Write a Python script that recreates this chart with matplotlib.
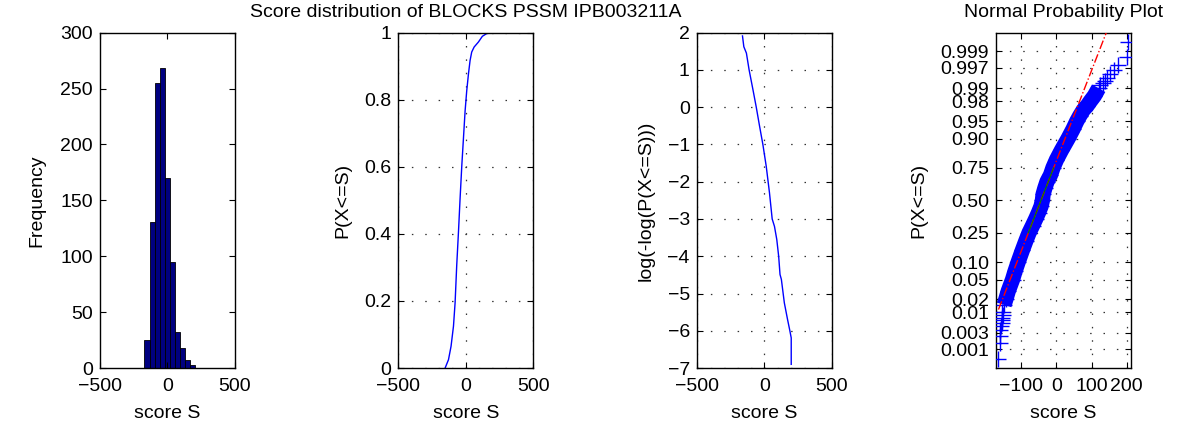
import matplotlib
matplotlib.use("Agg")
import matplotlib.pyplot as plt
from statistics import NormalDist

plt.rcParams["font.family"] = ["Liberation Sans", "DejaVu Sans"]
plt.rcParams["font.size"] = 14

# ------------------------------------------------------------
# Data
# ------------------------------------------------------------

# histogram of scores (10 bins)
hist_edges = [-172, -132, -93, -56, -16, 21, 58, 95, 132, 169, 206]
hist_counts = [25, 131, 255, 268, 170, 95, 32, 18, 7, 3]

# empirical cumulative distribution P(X<=S)
cdf_scores = [-154, -129, -110, -92, -80, -68, -55, -43, -30, -18, -6, 6,
              19, 31, 43, 61, 93, 122, 154, 204]
cdf_probs = [0.0, 0.025, 0.065, 0.125, 0.195, 0.306, 0.406, 0.506, 0.606,
             0.686, 0.766, 0.826, 0.877, 0.917, 0.942, 0.957, 0.972, 0.989,
             0.997, 1.0]

# log(-log(P(X<=S)))
loglog_scores = [-161, -151, -132, -112, -83, -59, -34, -10, 15, 39, 59, 76,
                 93, 107, 117, 127, 149, 173, 190, 200, 200]
loglog_values = [1.91, 1.62, 1.45, 1.0, 0.46, 0.0, -0.52, -1.0, -1.59, -2.30,
                 -3.0, -3.2, -3.55, -4.0, -4.49, -4.62, -5.25, -5.70, -6.0,
                 -6.19, -6.9]

# normal probability plot: sorted score vs plotting position
norm_probs = [0.0005, 0.0015, 0.0025, 0.0035, 0.0045, 0.0055, 0.0065, 0.0075,
              0.0085, 0.01, 0.015, 0.02, 0.03, 0.05, 0.07, 0.10, 0.15, 0.20,
              0.25, 0.30, 0.35, 0.40, 0.45, 0.50, 0.55, 0.60, 0.65, 0.70,
              0.75, 0.80, 0.85, 0.90, 0.93, 0.95, 0.96, 0.97, 0.975, 0.98,
              0.985, 0.99, 0.9915, 0.9925, 0.9935, 0.9945, 0.9955, 0.9965,
              0.9975, 0.9985, 0.9995]
norm_scores = [-165, -162, -162, -160, -159, -156, -155, -154, -153, -154,
               -149, -144, -137, -125, -118, -109, -97, -87, -78, -68, -59,
               -51, -44, -40, -38, -33, -27, -17, -10, 0, 14, 33, 47, 58, 66,
               77, 87, 96, 108, 120, 125, 131, 137, 144, 153, 163, 176, 200,
               203]

# quartiles used for the reference line
quart_probs = [0.25, 0.75]
quart_scores = [-80, -8]

prob_ticks = [0.001, 0.003, 0.01, 0.02, 0.05, 0.10, 0.25, 0.50, 0.75, 0.90,
              0.95, 0.98, 0.99, 0.997, 0.999]
prob_labels = ["0.001", "0.003", "0.01", "0.02", "0.05", "0.10", "0.25",
               "0.50", "0.75", "0.90", "0.95", "0.98", "0.99", "0.997", "0.999"]

title_text = "Score distribution of BLOCKS PSSM IPB003211A"


def style_axes(ax, grid=True):
    ax.tick_params(direction="in", length=4, top=True, right=True,
                   labelsize=14)
    ax.tick_params(axis="x", pad=7)
    ax.tick_params(axis="y", pad=5)
    for spine in ax.spines.values():
        spine.set_linewidth(1.0)
    if grid:
        ax.grid(True, color="0.2", linestyle=(0, (1.2, 9.5)), linewidth=0.9)
        ax.set_axisbelow(True)


fig = plt.figure(figsize=(12, 4.26), dpi=100)
lefts = [0.0833, 0.332, 0.5806, 0.83]
axes = [fig.add_axes([l, 0.136, 0.1125, 0.7875]) for l in lefts]

# 1. histogram
ax = axes[0]
widths = [hist_edges[i + 1] - hist_edges[i] for i in range(len(hist_counts))]
ax.bar(hist_edges[:-1], hist_counts, width=widths, align="edge",
       color="#000080", edgecolor="black", linewidth=0.6)
ax.set_xlim(-500, 500)
ax.set_ylim(0, 300)
ax.set_xticks([-500, 0, 500])
ax.set_yticks(range(0, 301, 50))
ax.set_xlabel("score S", labelpad=7)
ax.set_ylabel("Frequency", labelpad=11)
style_axes(ax, grid=False)

# 2. cumulative distribution
ax = axes[1]
ax.plot(cdf_scores, cdf_probs, color="blue", linewidth=1.0)
ax.set_xlim(-500, 500)
ax.set_ylim(0, 1)
ax.set_xticks([-500, 0, 500])
ax.set_yticks([0, 0.2, 0.4, 0.6, 0.8, 1])
ax.set_yticklabels(["0", "0.2", "0.4", "0.6", "0.8", "1"])
ax.set_xlabel("score S", labelpad=7)
ax.set_ylabel("P(X<=S)", labelpad=9)
ax.set_title(title_text, fontsize=14, pad=11)
style_axes(ax)

# 3. log(-log(P))
ax = axes[2]
ax.plot(loglog_scores, loglog_values, color="blue", linewidth=1.0)
ax.set_xlim(-500, 500)
ax.set_ylim(-7, 2)
ax.set_xticks([-500, 0, 500])
ax.set_yticks(range(-7, 3))
ax.set_xlabel("score S", labelpad=7)
ax.set_ylabel("log(-log(P(X<=S)))", labelpad=9)
style_axes(ax)

# 4. normal probability plot
ax = axes[3]
nd = NormalDist()
norm_z = [nd.inv_cdf(p) for p in norm_probs]
band = [i for i, p in enumerate(norm_probs) if 0.012 <= p <= 0.99]
ax.plot([norm_scores[i] for i in band], [norm_z[i] for i in band],
        color="blue", linewidth=11, solid_capstyle="butt",
        solid_joinstyle="round", zorder=2)
ax.plot(norm_scores, norm_z, linestyle="none", marker="+", markersize=11,
        markeredgewidth=1.0, color="blue", zorder=3)

quart_z = [nd.inv_cdf(p) for p in quart_probs]
slope = (quart_z[1] - quart_z[0]) / (quart_scores[1] - quart_scores[0])
ends = [min(norm_scores), max(norm_scores)]
ends_z = [quart_z[0] + slope * (s - quart_scores[0]) for s in ends]
ax.plot(ends, ends_z, color="red", linestyle="-.", linewidth=1.0, zorder=4)
ax.plot(quart_scores, quart_z, color="green", linewidth=0.8, zorder=5)

zlim = nd.inv_cdf(0.00025)
ax.set_ylim(zlim, -zlim)
ax.set_xlim(-172, 212)
ax.set_xticks([-100, 0, 100, 200])
ax.set_yticks([nd.inv_cdf(p) for p in prob_ticks])
ax.set_yticklabels(prob_labels)
ax.set_xlabel("score S", labelpad=7)
ax.set_ylabel("P(X<=S)", labelpad=9)
ax.set_title("Normal Probability Plot", fontsize=14, pad=11)
style_axes(ax)

fig.savefig("out.png", dpi=100)
